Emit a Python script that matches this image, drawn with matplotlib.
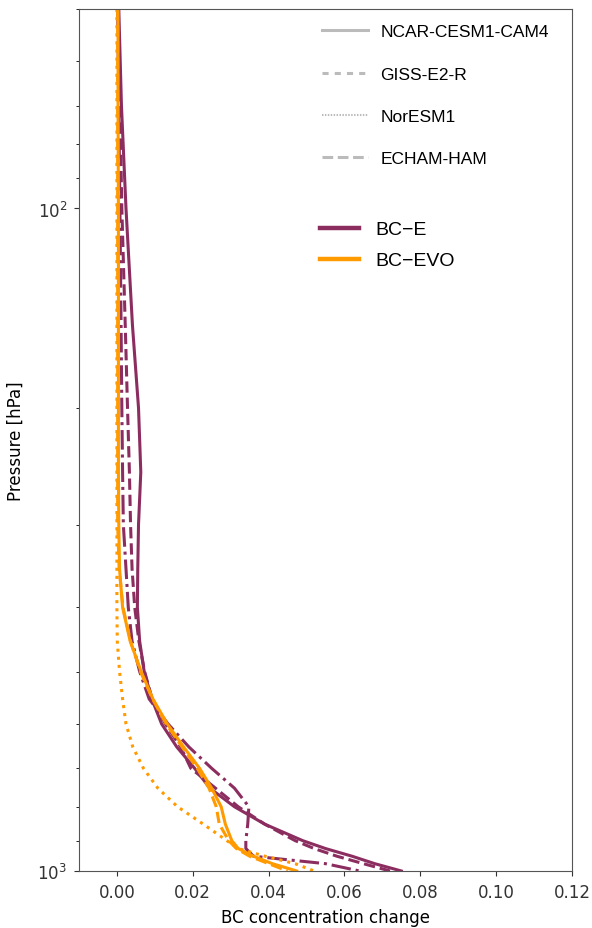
import numpy as np
import matplotlib
matplotlib.use("Agg")
import matplotlib.pyplot as plt
from matplotlib.lines import Line2D
from matplotlib.ticker import NullFormatter

# pressure levels [hPa]
pres = [50, 70, 100, 150, 200, 250, 300, 350, 400, 450, 500, 550,
        600, 650, 700, 750, 800, 850, 900, 925, 950, 975, 1000]

# BC-E
e_ncar = [0.0005, 0.0012, 0.0024, 0.0041, 0.0057, 0.0063, 0.0057, 0.0055, 0.0054, 0.0060,
          0.0072, 0.0092, 0.0118, 0.0158, 0.0205, 0.0245, 0.0310, 0.0390, 0.0490, 0.0550,
          0.0620, 0.0680, 0.0750]
e_noresm = [0.0002, 0.0005, 0.0008, 0.0011, 0.0013, 0.0015, 0.0017, 0.0024, 0.0030, 0.0040,
            0.0060, 0.0085, 0.0135, 0.0190, 0.0250, 0.0310, 0.0348, 0.0345, 0.0340, 0.0340,
            0.0360, 0.0550, 0.0640]
e_echam = [0.0003, 0.0008, 0.0013, 0.0022, 0.0028, 0.0033, 0.0036, 0.0040, 0.0047, 0.0058,
           0.0073, 0.0093, 0.0128, 0.0168, 0.0195, 0.0260, 0.0320, 0.0390, 0.0470, 0.0520,
           0.0580, 0.0650, 0.0720]

# BC-EVO
evo_ncar = [0.0003, 0.0003, 0.0004, 0.0004, 0.0004, 0.0004, 0.0005, 0.0007, 0.0015, 0.0035,
            0.0064, 0.0095, 0.0133, 0.0176, 0.0218, 0.0250, 0.0275, 0.0286, 0.0303, 0.0320,
            0.0360, 0.0410, 0.0474]
evo_giss = [0.0, 0.0, 0.0, 0.0, 0.0, 0.0, 0.0, 0.0, 0.0, 0.0001,
            0.0007, 0.0015, 0.0024, 0.0042, 0.0070, 0.0108, 0.0160, 0.0228, 0.0290, 0.0320,
            0.0390, 0.0470, 0.0520]
evo_echam = [0.0002, 0.0002, 0.0002, 0.0002, 0.0002, 0.0002, 0.0002, 0.0006, 0.0016, 0.0036,
             0.0062, 0.0094, 0.0130, 0.0172, 0.0212, 0.0243, 0.0262, 0.0270, 0.0295, 0.0315,
             0.0350, 0.0400, 0.0450]

models = ["NCAR-CESM1-CAM4", "GISS-E2-R", "NorESM1", "ECHAM-HAM"]
purple = "#8c2d60"
orange = "#ff9a00"

fig = plt.figure(figsize=(5.92, 9.29), dpi=100)
ax = fig.add_axes([0.1334, 0.0614, 0.8328, 0.9278])

lw = 2.2
ax.plot(e_noresm, pres, color=purple, ls="-.", lw=lw)
ax.plot(e_echam, pres, color=purple, ls="--", lw=lw)
ax.plot(e_ncar, pres, color=purple, ls="-", lw=lw)
ax.plot(evo_giss, pres, color=orange, ls=":", lw=lw)
ax.plot(evo_echam, pres, color=orange, ls="--", lw=lw)
ax.plot(evo_ncar, pres, color=orange, ls="-", lw=lw)

ax.set_yscale("log")
ax.set_ylim(1000, 50)
ax.set_xlim(-0.01, 0.12)
ax.set_xticks([0.0, 0.02, 0.04, 0.06, 0.08, 0.10, 0.12])
ax.yaxis.set_minor_formatter(NullFormatter())
ax.set_xlabel("BC concentration change", fontsize=12, labelpad=5)
ax.set_ylabel("Pressure [hPa]", fontsize=12, labelpad=9)
ax.tick_params(labelsize=12, colors="#333333", pad=5)
for s in ax.spines.values():
    s.set_color("#555555")

gray = "#bbbbbb"
model_handles = [
    Line2D([], [], color=gray, lw=2.2, ls="-"),
    Line2D([], [], color=gray, lw=2.2, ls=(0, (2, 2))),
    Line2D([], [], color=gray, lw=1.5, ls=(0, (0.7, 0.7))),
    Line2D([], [], color=gray, lw=2.2, ls=(0, (3.5, 1.5))),
]
leg1 = ax.legend(model_handles, models, loc="upper left", bbox_to_anchor=(0.493, 0.9826),
                 frameon=False, labelspacing=1.57, handlelength=2.65,
                 handletextpad=0.7, borderpad=0, borderaxespad=0,
                 prop={"family": "Liberation Sans", "size": 12.5})
ax.add_artist(leg1)

exp_handles = [Line2D([], [], color=purple, lw=3.2), Line2D([], [], color=orange, lw=3.2)]
ax.legend(exp_handles, ["BC\u2212E", "BC\u2212EVO"], loc="upper left",
          bbox_to_anchor=(0.489, 0.7544), frameon=False, labelspacing=0.69,
          handlelength=2.0, handletextpad=0.82, borderpad=0, borderaxespad=0,
          prop={"family": "Liberation Sans", "size": 14})

fig.savefig("out.png", dpi=100)
